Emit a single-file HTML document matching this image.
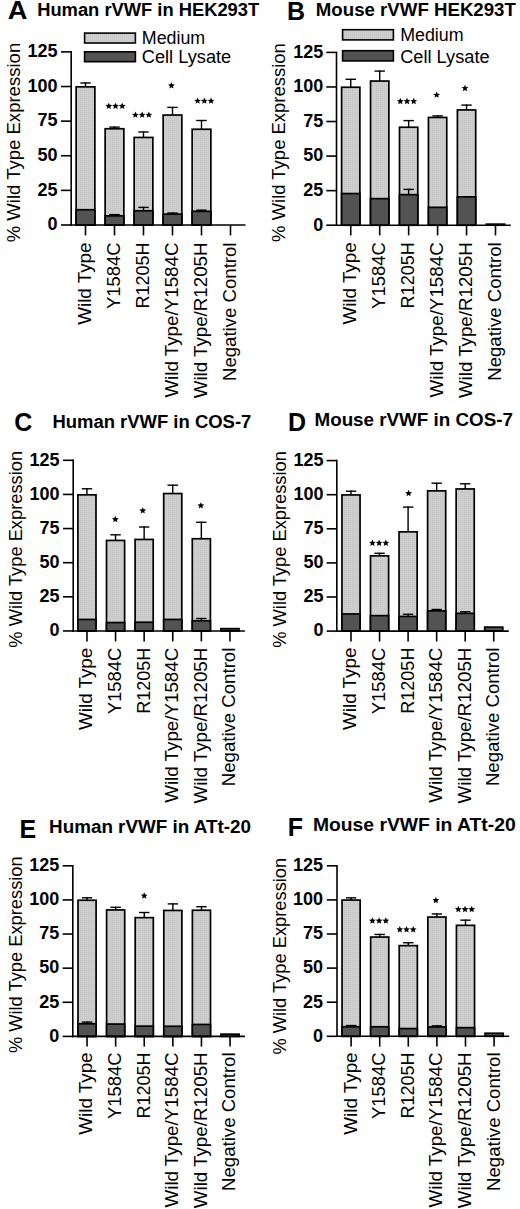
<!DOCTYPE html>
<html><head><meta charset="utf-8"><style>
html,body{margin:0;padding:0;background:#fff;}
svg{display:block;}
text{font-family:"Liberation Sans", sans-serif;fill:#000;}
.let{font-size:25px;font-weight:bold;}
.ttl{font-size:18px;font-weight:bold;}
.leg{font-size:17.5px;}
.tl{font-size:18px;font-weight:bold;}
.xl{font-size:18.3px;}
.yl{font-size:18.5px;}
.ax{stroke:#000;stroke-width:1.6;fill:none;}
.eb{stroke:#000;stroke-width:1.4;fill:none;}
.bar{stroke:#000;stroke-width:1.7;}
</style></head><body>
<svg width="520" height="1209" viewBox="0 0 520 1209">
<defs><pattern id="pm" width="2" height="2" patternUnits="userSpaceOnUse"><rect width="2" height="2" fill="#d3d3d3"/><rect width="1" height="2" fill="#c9c9c9"/><rect width="2" height="1" fill="#c9c9c9"/></pattern></defs>
<rect width="520" height="1209" fill="#fff"/>
<text transform="translate(7.7,19.4) scale(1.09,1)" class="let">A</text>
<text x="37.2" y="16.3" class="ttl" textLength="222" lengthAdjust="spacingAndGlyphs">Human rVWF in HEK293T</text>
<rect x="84.6" y="33.1" width="50.8" height="9.9" fill="url(#pm)" stroke="#000" stroke-width="1.6"/>
<text x="141.8" y="44" class="leg" textLength="63.4" lengthAdjust="spacingAndGlyphs">Medium</text>
<rect x="84.6" y="51.8" width="50.8" height="9.9" fill="#535353" stroke="#000" stroke-width="1.6"/>
<text x="141.8" y="62.6" class="leg" textLength="89.4" lengthAdjust="spacingAndGlyphs">Cell Lysate</text>
<line x1="85.5" y1="82.4" x2="85.5" y2="87" class="eb"/>
<line x1="80.3" y1="83" x2="90.7" y2="83" class="eb"/>
<rect x="76.15" y="86.85" width="18.7" height="138.15" fill="url(#pm)" class="bar"/>
<rect x="76.15" y="209.75" width="18.7" height="15.25" fill="#535353" class="bar"/>
<line x1="85.5" y1="225" x2="85.5" y2="235.4" class="ax"/>
<text transform="translate(90.9,242.5) rotate(-90)" class="xl" text-anchor="end" textLength="82.3" lengthAdjust="spacingAndGlyphs">Wild Type</text>
<line x1="114.5" y1="126.5" x2="114.5" y2="128.9" class="eb"/>
<line x1="109.3" y1="127.1" x2="119.7" y2="127.1" class="eb"/>
<rect x="105.15" y="128.75" width="18.7" height="96.25" fill="url(#pm)" class="bar"/>
<rect x="105.15" y="215.85" width="18.7" height="9.15" fill="#535353" class="bar"/>
<line x1="114.5" y1="214" x2="114.5" y2="216" class="eb"/>
<line x1="109.3" y1="214.6" x2="119.7" y2="214.6" class="eb"/>
<line x1="114.5" y1="225" x2="114.5" y2="235.4" class="ax"/>
<text transform="translate(119.9,242.5) rotate(-90)" class="xl" text-anchor="end" textLength="66.6" lengthAdjust="spacingAndGlyphs">Y1584C</text>
<polygon points="108.8,102.63 109.75,104.87 112.18,105.08 110.34,106.68 110.89,109.05 108.8,107.8 106.71,109.05 107.26,106.68 105.42,105.08 107.85,104.87"/>
<polygon points="115.52,102.63 116.47,104.87 118.9,105.08 117.06,106.68 117.61,109.05 115.52,107.8 113.43,109.05 113.98,106.68 112.14,105.08 114.57,104.87"/>
<polygon points="122.24,102.63 123.19,104.87 125.62,105.08 123.78,106.68 124.33,109.05 122.24,107.8 120.15,109.05 120.7,106.68 118.86,105.08 121.29,104.87"/>
<line x1="143.5" y1="131.4" x2="143.5" y2="137.6" class="eb"/>
<line x1="138.3" y1="132" x2="148.7" y2="132" class="eb"/>
<rect x="134.15" y="137.45" width="18.7" height="87.55" fill="url(#pm)" class="bar"/>
<rect x="134.15" y="210.75" width="18.7" height="14.25" fill="#535353" class="bar"/>
<line x1="143.5" y1="206.8" x2="143.5" y2="210.9" class="eb"/>
<line x1="138.3" y1="207.4" x2="148.7" y2="207.4" class="eb"/>
<line x1="143.5" y1="225" x2="143.5" y2="235.4" class="ax"/>
<text transform="translate(148.9,242.5) rotate(-90)" class="xl" text-anchor="end" textLength="66.1" lengthAdjust="spacingAndGlyphs">R1205H</text>
<polygon points="135.4,111.43 136.35,113.67 138.78,113.88 136.94,115.48 137.49,117.85 135.4,116.6 133.31,117.85 133.86,115.48 132.02,113.88 134.45,113.67"/>
<polygon points="142.12,111.43 143.07,113.67 145.5,113.88 143.66,115.48 144.21,117.85 142.12,116.6 140.03,117.85 140.58,115.48 138.74,113.88 141.17,113.67"/>
<polygon points="148.84,111.43 149.79,113.67 152.22,113.88 150.38,115.48 150.93,117.85 148.84,116.6 146.75,117.85 147.3,115.48 145.46,113.88 147.89,113.67"/>
<line x1="172.5" y1="106.8" x2="172.5" y2="115.2" class="eb"/>
<line x1="167.3" y1="107.4" x2="177.7" y2="107.4" class="eb"/>
<rect x="163.15" y="115.05" width="18.7" height="109.95" fill="url(#pm)" class="bar"/>
<rect x="163.15" y="214.15" width="18.7" height="10.85" fill="#535353" class="bar"/>
<line x1="172.5" y1="212.4" x2="172.5" y2="214.3" class="eb"/>
<line x1="167.3" y1="213" x2="177.7" y2="213" class="eb"/>
<line x1="172.5" y1="225" x2="172.5" y2="235.4" class="ax"/>
<text transform="translate(177.9,242.5) rotate(-90)" class="xl" text-anchor="end" textLength="155.1" lengthAdjust="spacingAndGlyphs">Wild Type/Y1584C</text>
<polygon points="171.45,82.13 172.4,84.37 174.83,84.58 172.99,86.18 173.54,88.55 171.45,87.3 169.36,88.55 169.91,86.18 168.07,84.58 170.5,84.37"/>
<line x1="201.5" y1="119.9" x2="201.5" y2="129.4" class="eb"/>
<line x1="196.3" y1="120.5" x2="206.7" y2="120.5" class="eb"/>
<rect x="192.15" y="129.25" width="18.7" height="95.75" fill="url(#pm)" class="bar"/>
<rect x="192.15" y="211.35" width="18.7" height="13.65" fill="#535353" class="bar"/>
<line x1="201.5" y1="209.6" x2="201.5" y2="211.5" class="eb"/>
<line x1="196.3" y1="210.2" x2="206.7" y2="210.2" class="eb"/>
<line x1="201.5" y1="225" x2="201.5" y2="235.4" class="ax"/>
<text transform="translate(206.9,242.5) rotate(-90)" class="xl" text-anchor="end" textLength="155.8" lengthAdjust="spacingAndGlyphs">Wild Type/R1205H</text>
<polygon points="197.6,97.43 198.55,99.67 200.98,99.88 199.14,101.48 199.69,103.85 197.6,102.6 195.51,103.85 196.06,101.48 194.22,99.88 196.65,99.67"/>
<polygon points="204.32,97.43 205.27,99.67 207.7,99.88 205.86,101.48 206.41,103.85 204.32,102.6 202.23,103.85 202.78,101.48 200.94,99.88 203.37,99.67"/>
<polygon points="211.04,97.43 211.99,99.67 214.42,99.88 212.58,101.48 213.13,103.85 211.04,102.6 208.95,103.85 209.5,101.48 207.66,99.88 210.09,99.67"/>
<line x1="230.5" y1="225" x2="230.5" y2="235.4" class="ax"/>
<text transform="translate(235.9,242.5) rotate(-90)" class="xl" text-anchor="end" textLength="138.5" lengthAdjust="spacingAndGlyphs">Negative Control</text>
<line x1="71.2" y1="51.1" x2="71.2" y2="225.8" class="ax"/>
<line x1="70.4" y1="225" x2="245.5" y2="225" class="ax"/>
<line x1="61" y1="225" x2="71.2" y2="225" class="ax"/>
<text x="57.5" y="230.3" class="tl" text-anchor="end">0</text>
<line x1="61" y1="190.38" x2="71.2" y2="190.38" class="ax"/>
<text x="57.5" y="195.68" class="tl" text-anchor="end">25</text>
<line x1="61" y1="155.76" x2="71.2" y2="155.76" class="ax"/>
<text x="57.5" y="161.06" class="tl" text-anchor="end">50</text>
<line x1="61" y1="121.14" x2="71.2" y2="121.14" class="ax"/>
<text x="57.5" y="126.44" class="tl" text-anchor="end">75</text>
<line x1="61" y1="86.52" x2="71.2" y2="86.52" class="ax"/>
<text x="57.5" y="91.82" class="tl" text-anchor="end">100</text>
<line x1="61" y1="51.9" x2="71.2" y2="51.9" class="ax"/>
<text x="57.5" y="57.2" class="tl" text-anchor="end">125</text>
<text transform="translate(19.6,242.3) rotate(-90)" class="yl" textLength="199.5" lengthAdjust="spacingAndGlyphs">% Wild Type Expression</text>
<text transform="translate(286.9,19.8) scale(1.0,1)" class="let">B</text>
<text x="315.8" y="16.3" class="ttl" textLength="200.1" lengthAdjust="spacingAndGlyphs">Mouse rVWF HEK293T</text>
<rect x="342.6" y="29.7" width="50.8" height="10.2" fill="url(#pm)" stroke="#000" stroke-width="1.6"/>
<text x="400.2" y="41" class="leg" textLength="63.4" lengthAdjust="spacingAndGlyphs">Medium</text>
<rect x="342.6" y="50.7" width="50.8" height="10.2" fill="#535353" stroke="#000" stroke-width="1.6"/>
<text x="400.2" y="62.5" class="leg" textLength="89.4" lengthAdjust="spacingAndGlyphs">Cell Lysate</text>
<line x1="350.75" y1="78.7" x2="350.75" y2="87.4" class="eb"/>
<line x1="345.55" y1="79.3" x2="355.95" y2="79.3" class="eb"/>
<rect x="341.6" y="87.25" width="18.3" height="137.95" fill="url(#pm)" class="bar"/>
<rect x="341.6" y="193.55" width="18.3" height="31.65" fill="#535353" class="bar"/>
<line x1="350.75" y1="225.2" x2="350.75" y2="235.4" class="ax"/>
<text transform="translate(356.15,242.3) rotate(-90)" class="xl" text-anchor="end" textLength="82.3" lengthAdjust="spacingAndGlyphs">Wild Type</text>
<line x1="379.7" y1="70.5" x2="379.7" y2="81.2" class="eb"/>
<line x1="374.5" y1="71.1" x2="384.9" y2="71.1" class="eb"/>
<rect x="370.55" y="81.05" width="18.3" height="144.15" fill="url(#pm)" class="bar"/>
<rect x="370.55" y="198.65" width="18.3" height="26.55" fill="#535353" class="bar"/>
<line x1="379.7" y1="225.2" x2="379.7" y2="235.4" class="ax"/>
<text transform="translate(385.1,242.3) rotate(-90)" class="xl" text-anchor="end" textLength="66.6" lengthAdjust="spacingAndGlyphs">Y1584C</text>
<line x1="408.65" y1="120" x2="408.65" y2="127.4" class="eb"/>
<line x1="403.45" y1="120.6" x2="413.85" y2="120.6" class="eb"/>
<rect x="399.5" y="127.25" width="18.3" height="97.95" fill="url(#pm)" class="bar"/>
<rect x="399.5" y="194.65" width="18.3" height="30.55" fill="#535353" class="bar"/>
<line x1="408.65" y1="188.8" x2="408.65" y2="194.8" class="eb"/>
<line x1="403.45" y1="189.4" x2="413.85" y2="189.4" class="eb"/>
<line x1="408.65" y1="225.2" x2="408.65" y2="235.4" class="ax"/>
<text transform="translate(414.05,242.3) rotate(-90)" class="xl" text-anchor="end" textLength="66.1" lengthAdjust="spacingAndGlyphs">R1205H</text>
<polygon points="400.3,97.73 401.25,99.97 403.68,100.18 401.84,101.78 402.39,104.15 400.3,102.9 398.21,104.15 398.76,101.78 396.92,100.18 399.35,99.97"/>
<polygon points="407.02,97.73 407.97,99.97 410.4,100.18 408.56,101.78 409.11,104.15 407.02,102.9 404.93,104.15 405.48,101.78 403.64,100.18 406.07,99.97"/>
<polygon points="413.74,97.73 414.69,99.97 417.12,100.18 415.28,101.78 415.83,104.15 413.74,102.9 411.65,104.15 412.2,101.78 410.36,100.18 412.79,99.97"/>
<line x1="437.6" y1="115.3" x2="437.6" y2="117.6" class="eb"/>
<line x1="432.4" y1="115.9" x2="442.8" y2="115.9" class="eb"/>
<rect x="428.45" y="117.45" width="18.3" height="107.75" fill="url(#pm)" class="bar"/>
<rect x="428.45" y="207.35" width="18.3" height="17.85" fill="#535353" class="bar"/>
<line x1="437.6" y1="225.2" x2="437.6" y2="235.4" class="ax"/>
<text transform="translate(443,242.3) rotate(-90)" class="xl" text-anchor="end" textLength="155.1" lengthAdjust="spacingAndGlyphs">Wild Type/Y1584C</text>
<polygon points="436.65,91.43 437.6,93.67 440.03,93.88 438.19,95.48 438.74,97.85 436.65,96.6 434.56,97.85 435.11,95.48 433.27,93.88 435.7,93.67"/>
<line x1="466.55" y1="104.5" x2="466.55" y2="110.1" class="eb"/>
<line x1="461.35" y1="105.1" x2="471.75" y2="105.1" class="eb"/>
<rect x="457.4" y="109.95" width="18.3" height="115.25" fill="url(#pm)" class="bar"/>
<rect x="457.4" y="196.85" width="18.3" height="28.35" fill="#535353" class="bar"/>
<line x1="466.55" y1="225.2" x2="466.55" y2="235.4" class="ax"/>
<text transform="translate(471.95,242.3) rotate(-90)" class="xl" text-anchor="end" textLength="155.8" lengthAdjust="spacingAndGlyphs">Wild Type/R1205H</text>
<polygon points="465,84.73 465.95,86.97 468.38,87.18 466.54,88.78 467.09,91.15 465,89.9 462.91,91.15 463.46,88.78 461.62,87.18 464.05,86.97"/>
<rect x="486.35" y="224.15" width="18.3" height="1.05" fill="#535353" class="bar"/>
<line x1="495.5" y1="225.2" x2="495.5" y2="235.4" class="ax"/>
<text transform="translate(500.9,242.3) rotate(-90)" class="xl" text-anchor="end" textLength="138.5" lengthAdjust="spacingAndGlyphs">Negative Control</text>
<line x1="336.5" y1="51.6" x2="336.5" y2="226" class="ax"/>
<line x1="335.7" y1="225.2" x2="510.8" y2="225.2" class="ax"/>
<line x1="326.3" y1="225.2" x2="336.5" y2="225.2" class="ax"/>
<text x="323.2" y="230.5" class="tl" text-anchor="end">0</text>
<line x1="326.3" y1="190.64" x2="336.5" y2="190.64" class="ax"/>
<text x="323.2" y="195.94" class="tl" text-anchor="end">25</text>
<line x1="326.3" y1="156.08" x2="336.5" y2="156.08" class="ax"/>
<text x="323.2" y="161.38" class="tl" text-anchor="end">50</text>
<line x1="326.3" y1="121.52" x2="336.5" y2="121.52" class="ax"/>
<text x="323.2" y="126.82" class="tl" text-anchor="end">75</text>
<line x1="326.3" y1="86.96" x2="336.5" y2="86.96" class="ax"/>
<text x="323.2" y="92.26" class="tl" text-anchor="end">100</text>
<line x1="326.3" y1="52.4" x2="336.5" y2="52.4" class="ax"/>
<text x="323.2" y="57.7" class="tl" text-anchor="end">125</text>
<text transform="translate(284.7,241.9) rotate(-90)" class="yl" textLength="198.8" lengthAdjust="spacingAndGlyphs">% Wild Type Expression</text>
<text transform="translate(14.2,431) scale(1.0,1)" class="let">C</text>
<text x="52.4" y="427.7" class="ttl" textLength="198.9" lengthAdjust="spacingAndGlyphs">Human rVWF in COS-7</text>
<line x1="86.95" y1="488.2" x2="86.95" y2="495" class="eb"/>
<line x1="81.75" y1="488.8" x2="92.15" y2="488.8" class="eb"/>
<rect x="77.9" y="494.85" width="18.1" height="136.1" fill="url(#pm)" class="bar"/>
<rect x="77.9" y="619.45" width="18.1" height="11.5" fill="#535353" class="bar"/>
<line x1="86.95" y1="630.95" x2="86.95" y2="641.4" class="ax"/>
<text transform="translate(92.35,647.7) rotate(-90)" class="xl" text-anchor="end" textLength="82.3" lengthAdjust="spacingAndGlyphs">Wild Type</text>
<line x1="115.55" y1="534.2" x2="115.55" y2="540.6" class="eb"/>
<line x1="110.35" y1="534.8" x2="120.75" y2="534.8" class="eb"/>
<rect x="106.5" y="540.45" width="18.1" height="90.5" fill="url(#pm)" class="bar"/>
<rect x="106.5" y="622.55" width="18.1" height="8.4" fill="#535353" class="bar"/>
<line x1="115.55" y1="630.95" x2="115.55" y2="641.4" class="ax"/>
<text transform="translate(120.95,647.7) rotate(-90)" class="xl" text-anchor="end" textLength="66.6" lengthAdjust="spacingAndGlyphs">Y1584C</text>
<polygon points="115.3,515.83 116.25,518.07 118.68,518.28 116.84,519.88 117.39,522.25 115.3,521 113.21,522.25 113.76,519.88 111.92,518.28 114.35,518.07"/>
<line x1="144.15" y1="526.4" x2="144.15" y2="539.6" class="eb"/>
<line x1="138.95" y1="527" x2="149.35" y2="527" class="eb"/>
<rect x="135.1" y="539.45" width="18.1" height="91.5" fill="url(#pm)" class="bar"/>
<rect x="135.1" y="622.25" width="18.1" height="8.7" fill="#535353" class="bar"/>
<line x1="144.15" y1="630.95" x2="144.15" y2="641.4" class="ax"/>
<text transform="translate(149.55,647.7) rotate(-90)" class="xl" text-anchor="end" textLength="66.1" lengthAdjust="spacingAndGlyphs">R1205H</text>
<polygon points="142.75,507.13 143.7,509.37 146.13,509.58 144.29,511.18 144.84,513.55 142.75,512.3 140.66,513.55 141.21,511.18 139.37,509.58 141.8,509.37"/>
<line x1="172.75" y1="484.6" x2="172.75" y2="493.7" class="eb"/>
<line x1="167.55" y1="485.2" x2="177.95" y2="485.2" class="eb"/>
<rect x="163.7" y="493.55" width="18.1" height="137.4" fill="url(#pm)" class="bar"/>
<rect x="163.7" y="619.45" width="18.1" height="11.5" fill="#535353" class="bar"/>
<line x1="172.75" y1="630.95" x2="172.75" y2="641.4" class="ax"/>
<text transform="translate(178.15,647.7) rotate(-90)" class="xl" text-anchor="end" textLength="155.1" lengthAdjust="spacingAndGlyphs">Wild Type/Y1584C</text>
<line x1="201.35" y1="521.7" x2="201.35" y2="538.9" class="eb"/>
<line x1="196.15" y1="522.3" x2="206.55" y2="522.3" class="eb"/>
<rect x="192.3" y="538.75" width="18.1" height="92.2" fill="url(#pm)" class="bar"/>
<rect x="192.3" y="620.75" width="18.1" height="10.2" fill="#535353" class="bar"/>
<line x1="201.35" y1="617.9" x2="201.35" y2="620.9" class="eb"/>
<line x1="196.15" y1="618.5" x2="206.55" y2="618.5" class="eb"/>
<line x1="201.35" y1="630.95" x2="201.35" y2="641.4" class="ax"/>
<text transform="translate(206.75,647.7) rotate(-90)" class="xl" text-anchor="end" textLength="155.8" lengthAdjust="spacingAndGlyphs">Wild Type/R1205H</text>
<polygon points="200.85,502.13 201.8,504.37 204.23,504.58 202.39,506.18 202.94,508.55 200.85,507.3 198.76,508.55 199.31,506.18 197.47,504.58 199.9,504.37"/>
<rect x="220.9" y="628.65" width="18.1" height="2.3" fill="#535353" class="bar"/>
<line x1="229.95" y1="630.95" x2="229.95" y2="641.4" class="ax"/>
<text transform="translate(235.35,647.7) rotate(-90)" class="xl" text-anchor="end" textLength="138.5" lengthAdjust="spacingAndGlyphs">Negative Control</text>
<line x1="73.2" y1="459.5" x2="73.2" y2="631.75" class="ax"/>
<line x1="72.4" y1="630.95" x2="244.9" y2="630.95" class="ax"/>
<line x1="63" y1="630.95" x2="73.2" y2="630.95" class="ax"/>
<text x="59.6" y="636.25" class="tl" text-anchor="end">0</text>
<line x1="63" y1="596.82" x2="73.2" y2="596.82" class="ax"/>
<text x="59.6" y="602.12" class="tl" text-anchor="end">25</text>
<line x1="63" y1="562.69" x2="73.2" y2="562.69" class="ax"/>
<text x="59.6" y="567.99" class="tl" text-anchor="end">50</text>
<line x1="63" y1="528.56" x2="73.2" y2="528.56" class="ax"/>
<text x="59.6" y="533.86" class="tl" text-anchor="end">75</text>
<line x1="63" y1="494.43" x2="73.2" y2="494.43" class="ax"/>
<text x="59.6" y="499.73" class="tl" text-anchor="end">100</text>
<line x1="63" y1="460.3" x2="73.2" y2="460.3" class="ax"/>
<text x="59.6" y="465.6" class="tl" text-anchor="end">125</text>
<text transform="translate(21.9,647.7) rotate(-90)" class="yl" textLength="196.8" lengthAdjust="spacingAndGlyphs">% Wild Type Expression</text>
<text transform="translate(287.9,430.6) scale(1.0,1)" class="let">D</text>
<text x="314.5" y="426.1" class="ttl" textLength="198.4" lengthAdjust="spacingAndGlyphs">Mouse rVWF in COS-7</text>
<line x1="351" y1="490.6" x2="351" y2="495.1" class="eb"/>
<line x1="345.8" y1="491.2" x2="356.2" y2="491.2" class="eb"/>
<rect x="341.95" y="494.95" width="18.1" height="136.15" fill="url(#pm)" class="bar"/>
<rect x="341.95" y="613.95" width="18.1" height="17.15" fill="#535353" class="bar"/>
<line x1="351" y1="631.1" x2="351" y2="641.5" class="ax"/>
<text transform="translate(356.4,647.6) rotate(-90)" class="xl" text-anchor="end" textLength="82.3" lengthAdjust="spacingAndGlyphs">Wild Type</text>
<line x1="379.55" y1="552.7" x2="379.55" y2="556" class="eb"/>
<line x1="374.35" y1="553.3" x2="384.75" y2="553.3" class="eb"/>
<rect x="370.5" y="555.85" width="18.1" height="75.25" fill="url(#pm)" class="bar"/>
<rect x="370.5" y="615.65" width="18.1" height="15.45" fill="#535353" class="bar"/>
<line x1="379.55" y1="631.1" x2="379.55" y2="641.5" class="ax"/>
<text transform="translate(384.95,647.6) rotate(-90)" class="xl" text-anchor="end" textLength="66.6" lengthAdjust="spacingAndGlyphs">Y1584C</text>
<polygon points="372.4,539.53 373.35,541.77 375.78,541.98 373.94,543.58 374.49,545.95 372.4,544.7 370.31,545.95 370.86,543.58 369.02,541.98 371.45,541.77"/>
<polygon points="379.12,539.53 380.07,541.77 382.5,541.98 380.66,543.58 381.21,545.95 379.12,544.7 377.03,545.95 377.58,543.58 375.74,541.98 378.17,541.77"/>
<polygon points="385.84,539.53 386.79,541.77 389.22,541.98 387.38,543.58 387.93,545.95 385.84,544.7 383.75,545.95 384.3,543.58 382.46,541.98 384.89,541.77"/>
<line x1="408.1" y1="506.5" x2="408.1" y2="532" class="eb"/>
<line x1="402.9" y1="507.1" x2="413.3" y2="507.1" class="eb"/>
<rect x="399.05" y="531.85" width="18.1" height="99.25" fill="url(#pm)" class="bar"/>
<rect x="399.05" y="616.45" width="18.1" height="14.65" fill="#535353" class="bar"/>
<line x1="408.1" y1="613.7" x2="408.1" y2="616.6" class="eb"/>
<line x1="402.9" y1="614.3" x2="413.3" y2="614.3" class="eb"/>
<line x1="408.1" y1="631.1" x2="408.1" y2="641.5" class="ax"/>
<text transform="translate(413.5,647.6) rotate(-90)" class="xl" text-anchor="end" textLength="66.1" lengthAdjust="spacingAndGlyphs">R1205H</text>
<polygon points="408.6,489.83 409.55,492.07 411.98,492.28 410.14,493.88 410.69,496.25 408.6,495 406.51,496.25 407.06,493.88 405.22,492.28 407.65,492.07"/>
<line x1="436.65" y1="482.6" x2="436.65" y2="491" class="eb"/>
<line x1="431.45" y1="483.2" x2="441.85" y2="483.2" class="eb"/>
<rect x="427.6" y="490.85" width="18.1" height="140.25" fill="url(#pm)" class="bar"/>
<rect x="427.6" y="610.85" width="18.1" height="20.25" fill="#535353" class="bar"/>
<line x1="436.65" y1="608.9" x2="436.65" y2="611" class="eb"/>
<line x1="431.45" y1="609.5" x2="441.85" y2="609.5" class="eb"/>
<line x1="436.65" y1="631.1" x2="436.65" y2="641.5" class="ax"/>
<text transform="translate(442.05,647.6) rotate(-90)" class="xl" text-anchor="end" textLength="155.1" lengthAdjust="spacingAndGlyphs">Wild Type/Y1584C</text>
<line x1="465.2" y1="483.2" x2="465.2" y2="489.1" class="eb"/>
<line x1="460" y1="483.8" x2="470.4" y2="483.8" class="eb"/>
<rect x="456.15" y="488.95" width="18.1" height="142.15" fill="url(#pm)" class="bar"/>
<rect x="456.15" y="613.35" width="18.1" height="17.75" fill="#535353" class="bar"/>
<line x1="465.2" y1="611.2" x2="465.2" y2="613.5" class="eb"/>
<line x1="460" y1="611.8" x2="470.4" y2="611.8" class="eb"/>
<line x1="465.2" y1="631.1" x2="465.2" y2="641.5" class="ax"/>
<text transform="translate(470.6,647.6) rotate(-90)" class="xl" text-anchor="end" textLength="155.8" lengthAdjust="spacingAndGlyphs">Wild Type/R1205H</text>
<rect x="484.7" y="627.15" width="18.1" height="3.95" fill="#535353" class="bar"/>
<line x1="493.75" y1="631.1" x2="493.75" y2="641.5" class="ax"/>
<text transform="translate(499.15,647.6) rotate(-90)" class="xl" text-anchor="end" textLength="138.5" lengthAdjust="spacingAndGlyphs">Negative Control</text>
<line x1="336.8" y1="459.8" x2="336.8" y2="631.9" class="ax"/>
<line x1="336" y1="631.1" x2="508.8" y2="631.1" class="ax"/>
<line x1="326.6" y1="631.1" x2="336.8" y2="631.1" class="ax"/>
<text x="323.5" y="636.4" class="tl" text-anchor="end">0</text>
<line x1="326.6" y1="597" x2="336.8" y2="597" class="ax"/>
<text x="323.5" y="602.3" class="tl" text-anchor="end">25</text>
<line x1="326.6" y1="562.9" x2="336.8" y2="562.9" class="ax"/>
<text x="323.5" y="568.2" class="tl" text-anchor="end">50</text>
<line x1="326.6" y1="528.8" x2="336.8" y2="528.8" class="ax"/>
<text x="323.5" y="534.1" class="tl" text-anchor="end">75</text>
<line x1="326.6" y1="494.7" x2="336.8" y2="494.7" class="ax"/>
<text x="323.5" y="500" class="tl" text-anchor="end">100</text>
<line x1="326.6" y1="460.6" x2="336.8" y2="460.6" class="ax"/>
<text x="323.5" y="465.9" class="tl" text-anchor="end">125</text>
<text transform="translate(286.1,647.7) rotate(-90)" class="yl" textLength="196.5" lengthAdjust="spacingAndGlyphs">% Wild Type Expression</text>
<text transform="translate(19.6,837.5) scale(1.0,1)" class="let">E</text>
<text x="49.1" y="832.6" class="ttl" textLength="201.8" lengthAdjust="spacingAndGlyphs">Human rVWF in ATt-20</text>
<line x1="87.05" y1="897.2" x2="87.05" y2="900.4" class="eb"/>
<line x1="81.85" y1="897.8" x2="92.25" y2="897.8" class="eb"/>
<rect x="78" y="900.25" width="18.1" height="136.15" fill="url(#pm)" class="bar"/>
<rect x="78" y="1023.75" width="18.1" height="12.65" fill="#535353" class="bar"/>
<line x1="87.05" y1="1021.5" x2="87.05" y2="1023.9" class="eb"/>
<line x1="81.85" y1="1022.1" x2="92.25" y2="1022.1" class="eb"/>
<line x1="87.05" y1="1036.4" x2="87.05" y2="1046.6" class="ax"/>
<text transform="translate(92.45,1052.4) rotate(-90)" class="xl" text-anchor="end" textLength="82.3" lengthAdjust="spacingAndGlyphs">Wild Type</text>
<line x1="115.65" y1="906.7" x2="115.65" y2="910.1" class="eb"/>
<line x1="110.45" y1="907.3" x2="120.85" y2="907.3" class="eb"/>
<rect x="106.6" y="909.95" width="18.1" height="126.45" fill="url(#pm)" class="bar"/>
<rect x="106.6" y="1024.05" width="18.1" height="12.35" fill="#535353" class="bar"/>
<line x1="115.65" y1="1036.4" x2="115.65" y2="1046.6" class="ax"/>
<text transform="translate(121.05,1052.4) rotate(-90)" class="xl" text-anchor="end" textLength="66.6" lengthAdjust="spacingAndGlyphs">Y1584C</text>
<line x1="144.25" y1="911.9" x2="144.25" y2="917.8" class="eb"/>
<line x1="139.05" y1="912.5" x2="149.45" y2="912.5" class="eb"/>
<rect x="135.2" y="917.65" width="18.1" height="118.75" fill="url(#pm)" class="bar"/>
<rect x="135.2" y="1026.15" width="18.1" height="10.25" fill="#535353" class="bar"/>
<line x1="144.25" y1="1036.4" x2="144.25" y2="1046.6" class="ax"/>
<text transform="translate(149.65,1052.4) rotate(-90)" class="xl" text-anchor="end" textLength="66.1" lengthAdjust="spacingAndGlyphs">R1205H</text>
<polygon points="144.2,892.23 145.15,894.47 147.58,894.68 145.74,896.28 146.29,898.65 144.2,897.4 142.11,898.65 142.66,896.28 140.82,894.68 143.25,894.47"/>
<line x1="172.85" y1="903.3" x2="172.85" y2="910.6" class="eb"/>
<line x1="167.65" y1="903.9" x2="178.05" y2="903.9" class="eb"/>
<rect x="163.8" y="910.45" width="18.1" height="125.95" fill="url(#pm)" class="bar"/>
<rect x="163.8" y="1026.25" width="18.1" height="10.15" fill="#535353" class="bar"/>
<line x1="172.85" y1="1036.4" x2="172.85" y2="1046.6" class="ax"/>
<text transform="translate(178.25,1052.4) rotate(-90)" class="xl" text-anchor="end" textLength="155.1" lengthAdjust="spacingAndGlyphs">Wild Type/Y1584C</text>
<line x1="201.45" y1="906.1" x2="201.45" y2="910.4" class="eb"/>
<line x1="196.25" y1="906.7" x2="206.65" y2="906.7" class="eb"/>
<rect x="192.4" y="910.25" width="18.1" height="126.15" fill="url(#pm)" class="bar"/>
<rect x="192.4" y="1024.45" width="18.1" height="11.95" fill="#535353" class="bar"/>
<line x1="201.45" y1="1036.4" x2="201.45" y2="1046.6" class="ax"/>
<text transform="translate(206.85,1052.4) rotate(-90)" class="xl" text-anchor="end" textLength="155.8" lengthAdjust="spacingAndGlyphs">Wild Type/R1205H</text>
<rect x="221" y="1034.15" width="18.1" height="2.25" fill="#535353" class="bar"/>
<line x1="230.05" y1="1036.4" x2="230.05" y2="1046.6" class="ax"/>
<text transform="translate(235.45,1052.4) rotate(-90)" class="xl" text-anchor="end" textLength="138.5" lengthAdjust="spacingAndGlyphs">Negative Control</text>
<line x1="72.8" y1="865" x2="72.8" y2="1037.2" class="ax"/>
<line x1="72" y1="1036.4" x2="244.9" y2="1036.4" class="ax"/>
<line x1="62.6" y1="1036.4" x2="72.8" y2="1036.4" class="ax"/>
<text x="59.2" y="1041.7" class="tl" text-anchor="end">0</text>
<line x1="62.6" y1="1002.28" x2="72.8" y2="1002.28" class="ax"/>
<text x="59.2" y="1007.58" class="tl" text-anchor="end">25</text>
<line x1="62.6" y1="968.16" x2="72.8" y2="968.16" class="ax"/>
<text x="59.2" y="973.46" class="tl" text-anchor="end">50</text>
<line x1="62.6" y1="934.04" x2="72.8" y2="934.04" class="ax"/>
<text x="59.2" y="939.34" class="tl" text-anchor="end">75</text>
<line x1="62.6" y1="899.92" x2="72.8" y2="899.92" class="ax"/>
<text x="59.2" y="905.22" class="tl" text-anchor="end">100</text>
<line x1="62.6" y1="865.8" x2="72.8" y2="865.8" class="ax"/>
<text x="59.2" y="871.1" class="tl" text-anchor="end">125</text>
<text transform="translate(21.9,1053.1) rotate(-90)" class="yl" textLength="196.8" lengthAdjust="spacingAndGlyphs">% Wild Type Expression</text>
<text transform="translate(287.8,836.2) scale(1.0,1)" class="let">F</text>
<text x="312.9" y="831" class="ttl" textLength="202.8" lengthAdjust="spacingAndGlyphs">Mouse rVWF in ATt-20</text>
<line x1="351.1" y1="897.25" x2="351.1" y2="900.2" class="eb"/>
<line x1="345.9" y1="897.85" x2="356.3" y2="897.85" class="eb"/>
<rect x="342.05" y="900.05" width="18.1" height="136.25" fill="url(#pm)" class="bar"/>
<rect x="342.05" y="1026.75" width="18.1" height="9.55" fill="#535353" class="bar"/>
<line x1="351.1" y1="1024.95" x2="351.1" y2="1026.9" class="eb"/>
<line x1="345.9" y1="1025.55" x2="356.3" y2="1025.55" class="eb"/>
<line x1="351.1" y1="1036.3" x2="351.1" y2="1046.6" class="ax"/>
<text transform="translate(356.5,1052.4) rotate(-90)" class="xl" text-anchor="end" textLength="82.3" lengthAdjust="spacingAndGlyphs">Wild Type</text>
<line x1="379.7" y1="933.85" x2="379.7" y2="937.2" class="eb"/>
<line x1="374.5" y1="934.45" x2="384.9" y2="934.45" class="eb"/>
<rect x="370.65" y="937.05" width="18.1" height="99.25" fill="url(#pm)" class="bar"/>
<rect x="370.65" y="1026.75" width="18.1" height="9.55" fill="#535353" class="bar"/>
<line x1="379.7" y1="1036.3" x2="379.7" y2="1046.6" class="ax"/>
<text transform="translate(385.1,1052.4) rotate(-90)" class="xl" text-anchor="end" textLength="66.6" lengthAdjust="spacingAndGlyphs">Y1584C</text>
<polygon points="372.4,917.33 373.35,919.57 375.78,919.78 373.94,921.38 374.49,923.75 372.4,922.5 370.31,923.75 370.86,921.38 369.02,919.78 371.45,919.57"/>
<polygon points="379.12,917.33 380.07,919.57 382.5,919.78 380.66,921.38 381.21,923.75 379.12,922.5 377.03,923.75 377.58,921.38 375.74,919.78 378.17,919.57"/>
<polygon points="385.84,917.33 386.79,919.57 389.22,919.78 387.38,921.38 387.93,923.75 385.84,922.5 383.75,923.75 384.3,921.38 382.46,919.78 384.89,919.57"/>
<line x1="408.3" y1="942.15" x2="408.3" y2="945.8" class="eb"/>
<line x1="403.1" y1="942.75" x2="413.5" y2="942.75" class="eb"/>
<rect x="399.25" y="945.65" width="18.1" height="90.65" fill="url(#pm)" class="bar"/>
<rect x="399.25" y="1028.55" width="18.1" height="7.75" fill="#535353" class="bar"/>
<line x1="408.3" y1="1036.3" x2="408.3" y2="1046.6" class="ax"/>
<text transform="translate(413.7,1052.4) rotate(-90)" class="xl" text-anchor="end" textLength="66.1" lengthAdjust="spacingAndGlyphs">R1205H</text>
<polygon points="399.8,926.03 400.75,928.27 403.18,928.48 401.34,930.08 401.89,932.45 399.8,931.2 397.71,932.45 398.26,930.08 396.42,928.48 398.85,928.27"/>
<polygon points="406.52,926.03 407.47,928.27 409.9,928.48 408.06,930.08 408.61,932.45 406.52,931.2 404.43,932.45 404.98,930.08 403.14,928.48 405.57,928.27"/>
<polygon points="413.24,926.03 414.19,928.27 416.62,928.48 414.78,930.08 415.33,932.45 413.24,931.2 411.15,932.45 411.7,930.08 409.86,928.48 412.29,928.27"/>
<line x1="436.9" y1="913.35" x2="436.9" y2="917.2" class="eb"/>
<line x1="431.7" y1="913.95" x2="442.1" y2="913.95" class="eb"/>
<rect x="427.85" y="917.05" width="18.1" height="119.25" fill="url(#pm)" class="bar"/>
<rect x="427.85" y="1026.95" width="18.1" height="9.35" fill="#535353" class="bar"/>
<line x1="436.9" y1="1025.25" x2="436.9" y2="1027.1" class="eb"/>
<line x1="431.7" y1="1025.85" x2="442.1" y2="1025.85" class="eb"/>
<line x1="436.9" y1="1036.3" x2="436.9" y2="1046.6" class="ax"/>
<text transform="translate(442.3,1052.4) rotate(-90)" class="xl" text-anchor="end" textLength="155.1" lengthAdjust="spacingAndGlyphs">Wild Type/Y1584C</text>
<polygon points="435.85,896.83 436.8,899.07 439.23,899.28 437.39,900.88 437.94,903.25 435.85,902 433.76,903.25 434.31,900.88 432.47,899.28 434.9,899.07"/>
<line x1="465.5" y1="919.55" x2="465.5" y2="925.5" class="eb"/>
<line x1="460.3" y1="920.15" x2="470.7" y2="920.15" class="eb"/>
<rect x="456.45" y="925.35" width="18.1" height="110.95" fill="url(#pm)" class="bar"/>
<rect x="456.45" y="1027.65" width="18.1" height="8.65" fill="#535353" class="bar"/>
<line x1="465.5" y1="1036.3" x2="465.5" y2="1046.6" class="ax"/>
<text transform="translate(470.9,1052.4) rotate(-90)" class="xl" text-anchor="end" textLength="155.8" lengthAdjust="spacingAndGlyphs">Wild Type/R1205H</text>
<polygon points="458.3,905.83 459.25,908.07 461.68,908.28 459.84,909.88 460.39,912.25 458.3,911 456.21,912.25 456.76,909.88 454.92,908.28 457.35,908.07"/>
<polygon points="465.02,905.83 465.97,908.07 468.4,908.28 466.56,909.88 467.11,912.25 465.02,911 462.93,912.25 463.48,909.88 461.64,908.28 464.07,908.07"/>
<polygon points="471.74,905.83 472.69,908.07 475.12,908.28 473.28,909.88 473.83,912.25 471.74,911 469.65,912.25 470.2,909.88 468.36,908.28 470.79,908.07"/>
<rect x="485.05" y="1033.25" width="18.1" height="3.05" fill="#535353" class="bar"/>
<line x1="494.1" y1="1036.3" x2="494.1" y2="1046.6" class="ax"/>
<text transform="translate(499.5,1052.4) rotate(-90)" class="xl" text-anchor="end" textLength="138.5" lengthAdjust="spacingAndGlyphs">Negative Control</text>
<line x1="337" y1="865" x2="337" y2="1037.1" class="ax"/>
<line x1="336.2" y1="1036.3" x2="509.1" y2="1036.3" class="ax"/>
<line x1="326.8" y1="1036.3" x2="337" y2="1036.3" class="ax"/>
<text x="323.1" y="1041.6" class="tl" text-anchor="end">0</text>
<line x1="326.8" y1="1002.2" x2="337" y2="1002.2" class="ax"/>
<text x="323.1" y="1007.5" class="tl" text-anchor="end">25</text>
<line x1="326.8" y1="968.1" x2="337" y2="968.1" class="ax"/>
<text x="323.1" y="973.4" class="tl" text-anchor="end">50</text>
<line x1="326.8" y1="934" x2="337" y2="934" class="ax"/>
<text x="323.1" y="939.3" class="tl" text-anchor="end">75</text>
<line x1="326.8" y1="899.9" x2="337" y2="899.9" class="ax"/>
<text x="323.1" y="905.2" class="tl" text-anchor="end">100</text>
<line x1="326.8" y1="865.8" x2="337" y2="865.8" class="ax"/>
<text x="323.1" y="871.1" class="tl" text-anchor="end">125</text>
<text transform="translate(285.8,1054.6) rotate(-90)" class="yl" textLength="196.8" lengthAdjust="spacingAndGlyphs">% Wild Type Expression</text>
</svg>
</body></html>
